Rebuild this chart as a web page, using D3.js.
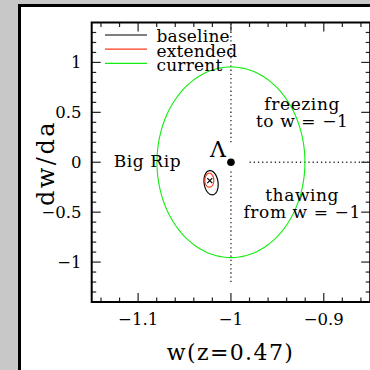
<!DOCTYPE html>
<html>
<head>
<meta charset="utf-8">
<script src="https://cdn.jsdelivr.net/npm/d3@7"></script>
<style>
  html, body { margin: 0; padding: 0; background: #c8c8c8; overflow: hidden; }
  svg { display: block; }
  text { font-family: "DejaVu Serif", serif; fill: #000; }
</style>
</head>
<body>
<svg id="chart" width="370" height="370"></svg>
<script>
// Constraint contours in the (w, dw/da) plane, each an ellipse:
// [centre w, centre dw/da, semi-axis in w, semi-axis in dw/da, tilt (deg, screen)]
const seriesNames = ["baseline", "extended", "current"];
const seriesColors = ["#000000", "#ff3a1c", "#10ee10"];
const contours = [
  [-1.0214, -0.205, 0.0075, 0.122, -8],
  [-1.0233, -0.180, 0.0048, 0.070, 0],
  [-1.0000,  0.000, 0.0797, 0.955, 0]
];
const fiducial = [-1.0228, -0.184];   // best-fit point of the forecasts
const lambdaPoint = [-1.0, 0.0];      // cosmological constant

const xTicks = [-1.1, -1.0, -0.9];
const xTickLabels = ["−1.1", "−1", "−0.9"];
const yTicks = [1, 0.5, 0, -0.5, -1];
const yTickLabels = ["1", "0.5", "0", "−0.5", "−1"];

// reference lines through Lambda: [w0, w1, a0, a1]
const refLines = [
  [-1.0, -1.0, 0.2, 1.4],
  [-1.0, -1.0, -1.2, -0.08],
  [-0.98, -0.85, 0.0, 0.0]
];

const regionLabels = [
  { lines: ["Big Rip"], w: -1.09, a: -0.044, anchor: "middle" },
  { lines: ["freezing", "to w = −1"], w: -0.9233, a: 0.52, anchor: "middle" },
  { lines: ["thawing", "from w = −1"], w: -0.9233, a: -0.393, anchor: "middle" }
];

const svg = d3.select("#chart");

// panel
svg.append("rect")
  .attr("x", 19.5).attr("y", 5.5).attr("width", 420).attr("height", 420)
  .attr("fill", "#fff").attr("stroke", "#000").attr("stroke-width", 3);

const L = 91.7, R = 370.2, T = 22.5, B = 302.0;
const x = d3.scaleLinear().domain([-1.15, -0.85]).range([L, R]);
const y = d3.scaleLinear().domain([-1.4, 1.4]).range([B, T]);

// ticks (inward on all four sides)
const tickColor = "#222";
const xMinor = d3.range(-1.14, -0.849, 0.02).map(v => +v.toFixed(2));
const yMinor = d3.range(-1.3, 1.31, 0.1).map(v => +v.toFixed(1));
const isMajorX = v => Math.abs(v * 10 - Math.round(v * 10)) < 1e-6;
const isMajorY = v => Math.abs(v * 2 - Math.round(v * 2)) < 1e-6;
const tg = svg.append("g").attr("stroke", tickColor).attr("stroke-width", 1.2);
xMinor.forEach(v => {
  const len = isMajorX(v) ? 9 : 4.5;
  const px = x(v);
  tg.append("line").attr("x1", px).attr("x2", px).attr("y1", B).attr("y2", B - len);
  tg.append("line").attr("x1", px).attr("x2", px).attr("y1", T).attr("y2", T + len);
});
yMinor.forEach(v => {
  const len = isMajorY(v) ? 9 : 4.5;
  const py = y(v);
  tg.append("line").attr("x1", L).attr("x2", L + len).attr("y1", py).attr("y2", py);
  tg.append("line").attr("x1", R).attr("x2", R - len).attr("y1", py).attr("y2", py);
});

// frame
svg.append("rect")
  .attr("x", L).attr("y", T).attr("width", R - L).attr("height", B - T)
  .attr("fill", "none").attr("stroke", "#000").attr("stroke-width", 2);

// tick labels
svg.append("g").selectAll("text").data(xTicks).join("text")
  .attr("x", d => x(d)).attr("y", 325)
  .attr("text-anchor", "middle").attr("font-size", 16.5)
  .text((d, i) => xTickLabels[i]);
svg.append("g").selectAll("text").data(yTicks).join("text")
  .attr("x", 81.5).attr("y", d => y(d) + 6)
  .attr("text-anchor", "end").attr("font-size", 16.5)
  .text((d, i) => yTickLabels[i]);

// axis titles
svg.append("text")
  .attr("x", 230.5).attr("y", 359.5).attr("text-anchor", "middle")
  .attr("font-size", 22).attr("letter-spacing", 1.4)
  .text("w(z=0.47)");
svg.append("text")
  .attr("transform", "translate(54,163) rotate(-90)")
  .attr("text-anchor", "middle")
  .attr("font-size", 24).attr("letter-spacing", 2.5)
  .text("dw/da");

// dotted reference lines
svg.append("g").selectAll("line").data(refLines).join("line")
  .attr("x1", d => x(d[0])).attr("x2", d => x(d[1]))
  .attr("y1", d => y(d[2])).attr("y2", d => y(d[3]))
  .attr("stroke", "#333").attr("stroke-width", 1.4)
  .attr("stroke-dasharray", "1.3,2.9");

// contour ellipses
const ellipsePath = c => {
  const cx = x(c[0]), cy = y(c[1]);
  const rx = x(c[0] + c[2]) - cx, ry = cy - y(c[1] + c[3]);
  const th = c[4] * Math.PI / 180;
  const pts = d3.range(0, 361, 3).map(t => {
    const a = t * Math.PI / 180;
    const ex = rx * Math.cos(a), ey = ry * Math.sin(a);
    return [cx + ex * Math.cos(th) - ey * Math.sin(th), cy + ex * Math.sin(th) + ey * Math.cos(th)];
  });
  return d3.line()(pts) + "Z";
};
svg.append("g").selectAll("path").data(contours).join("path")
  .attr("d", ellipsePath)
  .attr("fill", "none")
  .attr("stroke", (d, i) => seriesColors[i])
  .attr("stroke-width", (d, i) => i === 2 ? 1.1 : 1.2);

// best-fit marker
const fx = x(fiducial[0]), fy = y(fiducial[1]);
svg.append("path")
  .attr("d", `M${fx - 2.5},${fy - 2.5}L${fx + 2.5},${fy + 2.5}M${fx - 2.5},${fy + 2.5}L${fx + 2.5},${fy - 2.5}`)
  .attr("stroke", "#000").attr("stroke-width", 1.2);

// Lambda point
svg.append("circle")
  .attr("cx", x(lambdaPoint[0])).attr("cy", y(lambdaPoint[1])).attr("r", 3.8)
  .attr("fill", "#000");
svg.append("text")
  .attr("x", x(lambdaPoint[0]) - 13).attr("y", y(lambdaPoint[1]) - 5.5)
  .attr("text-anchor", "middle").attr("font-size", 22)
  .text("Λ");

// region labels
regionLabels.forEach(r => {
  const t = svg.append("text")
    .attr("text-anchor", r.anchor).attr("font-size", 17)
    .attr("letter-spacing", 0.6);
  r.lines.forEach((s, i) => {
    t.append("tspan").attr("x", x(r.w)).attr("y", y(r.a) + i * 17).text(s);
  });
});

// legend
const lg = svg.append("g");
seriesNames.forEach((name, i) => {
  const ly = 35 + i * 14.2;
  lg.append("line").attr("x1", 105).attr("x2", 147).attr("y1", ly).attr("y2", ly)
    .attr("stroke", seriesColors[i]).attr("stroke-width", 1.2);
  lg.append("text").attr("x", 156.5).attr("y", ly + 7.3)
    .attr("font-size", 17).attr("letter-spacing", 0.2).text(name);
});
</script>
</body>
</html>
